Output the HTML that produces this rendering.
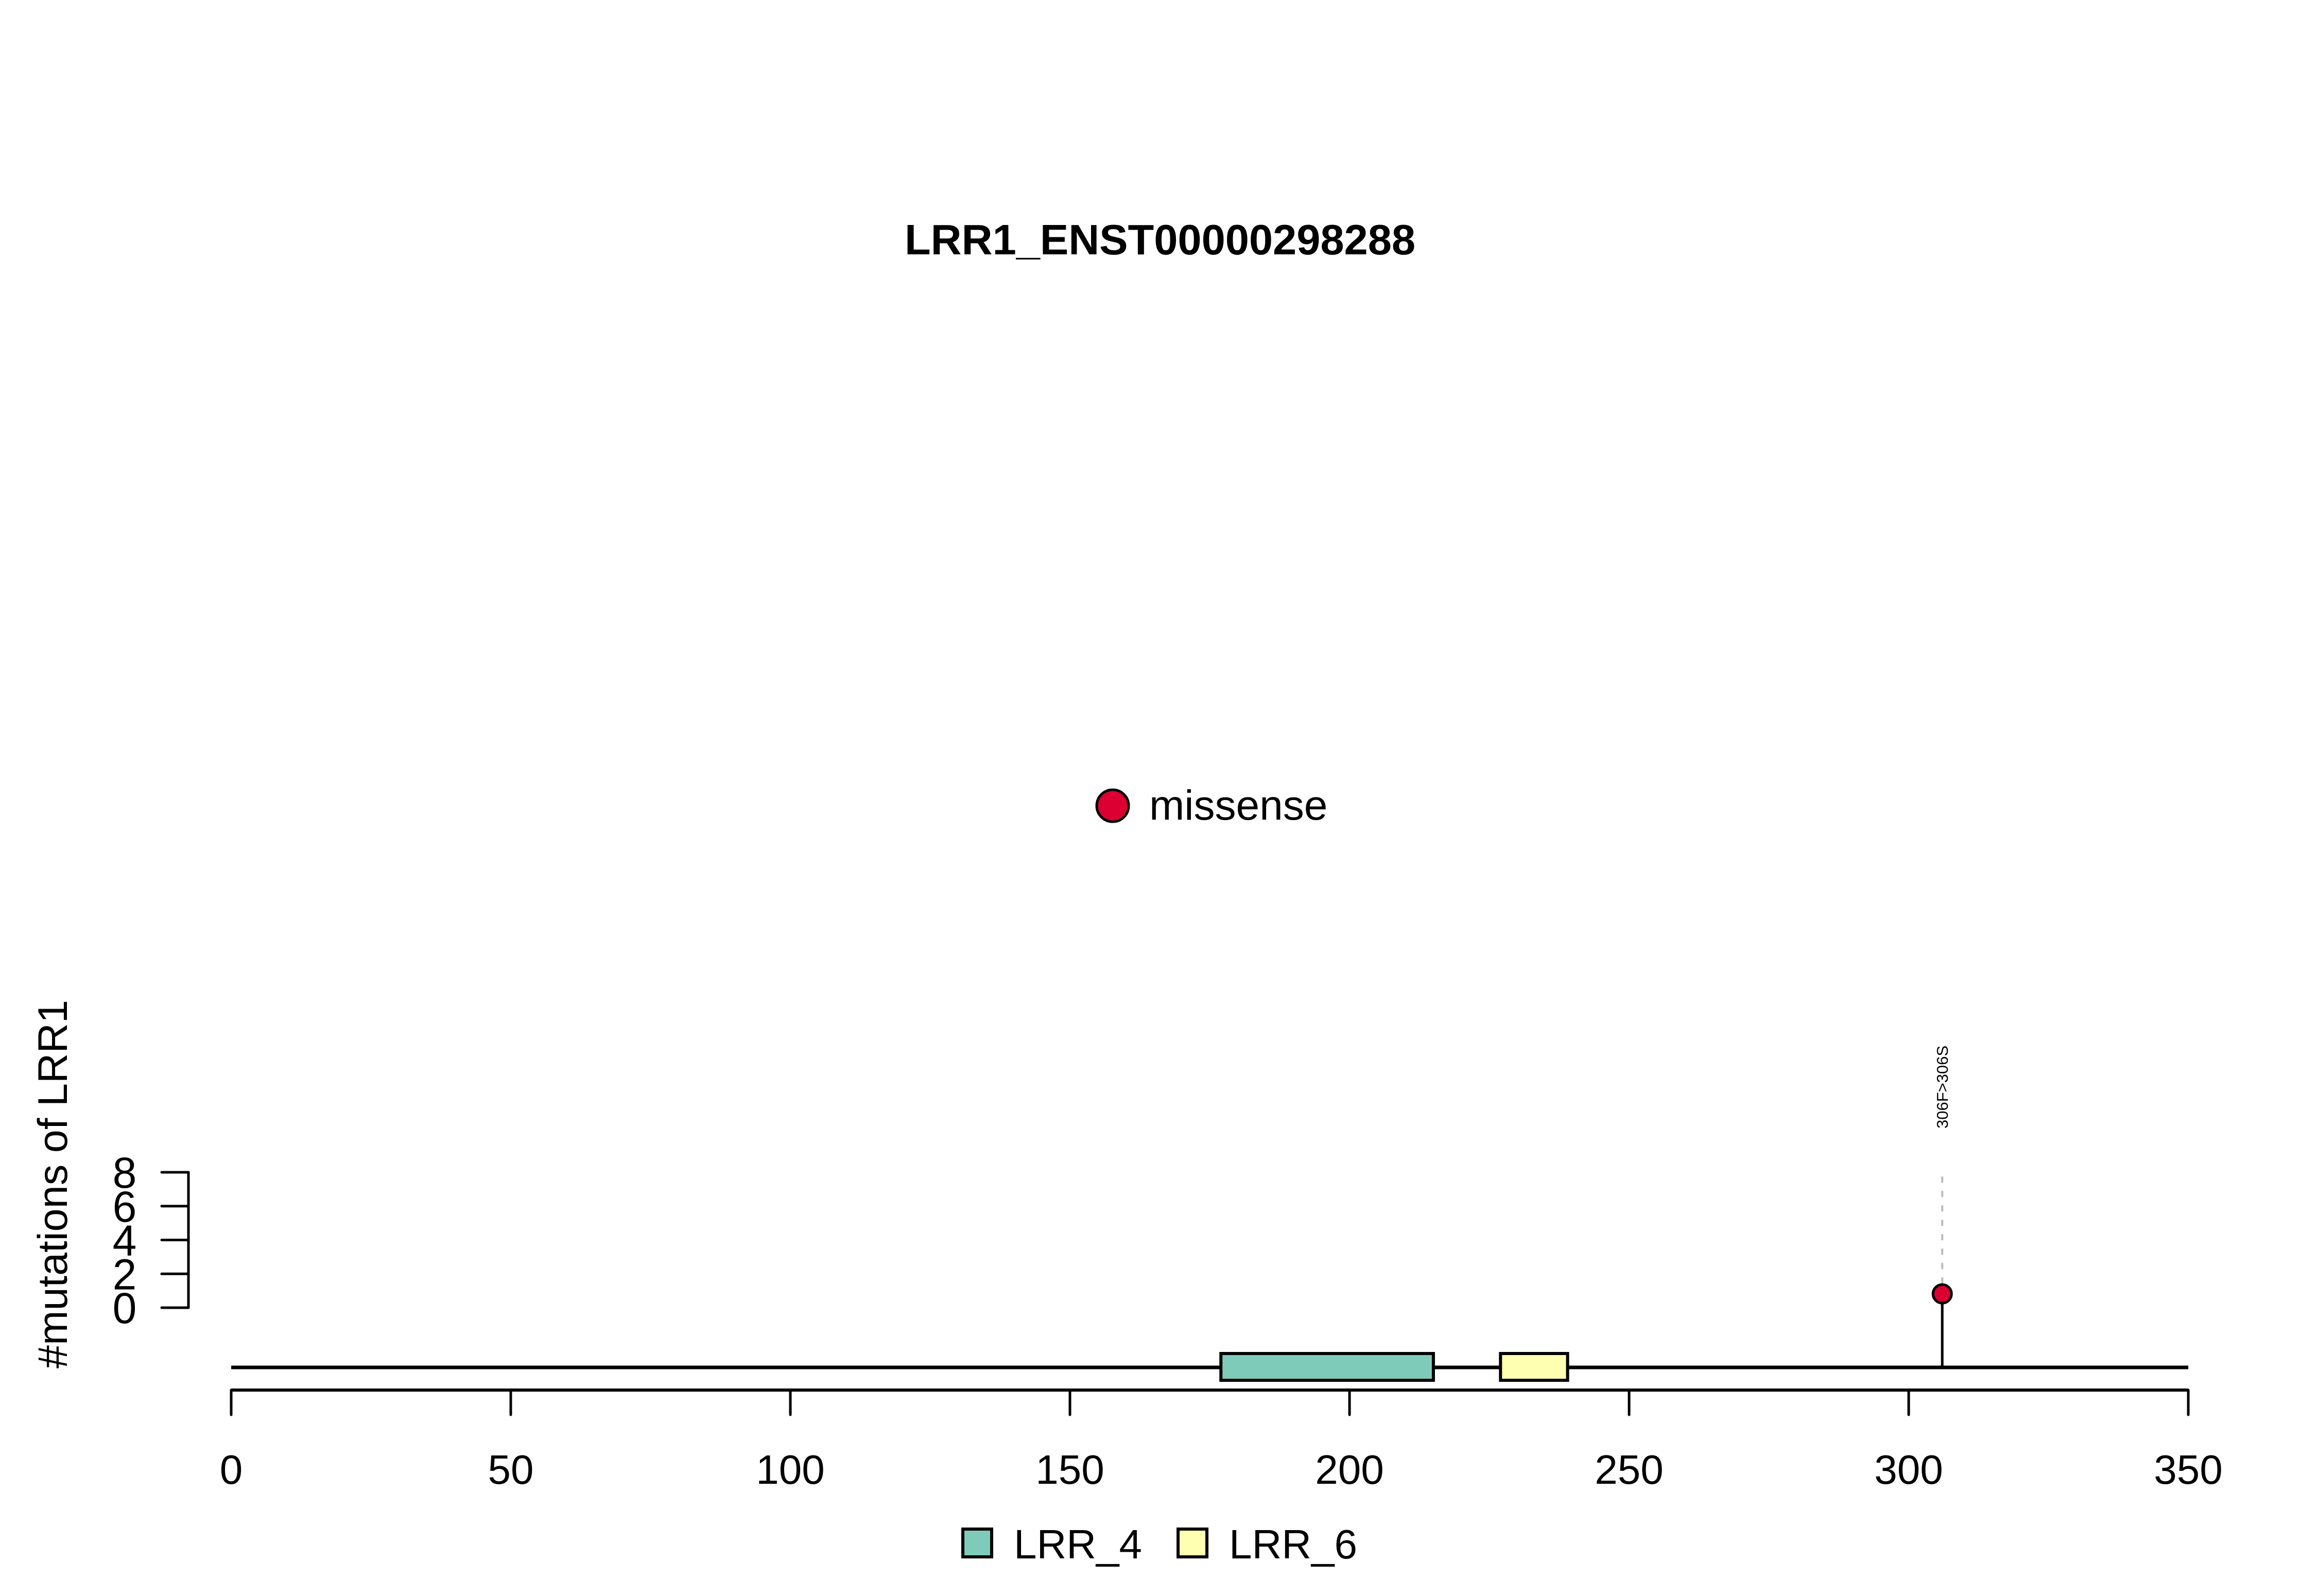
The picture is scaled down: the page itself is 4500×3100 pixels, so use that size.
<!DOCTYPE html>
<html><head><meta charset="utf-8"><style>
html,body{margin:0;padding:0;background:#fff;}
svg{display:block;font-family:"Liberation Sans",Arial,sans-serif;}
</style></head><body>
<svg id="chart" width="4500" height="3100" viewBox="0 0 4500 3100" xmlns="http://www.w3.org/2000/svg">
<rect width="4500" height="3100" fill="#fff"/>
<text x="2253" y="494" font-size="83" font-weight="bold" text-anchor="middle">LRR1_ENST00000298288</text>
<g>
<circle cx="2161" cy="1565" r="31" fill="#DC0032" stroke="#000" stroke-width="5"/>
<text x="2232" y="1592" font-size="82">missense</text>
</g>
<g id="plot"></g>
</svg>
<script>
const xTicks=[0,50,100,150,200,250,300,350];
const yTicks=[0,2,4,6,8];
const domainNames=["LRR_4","LRR_6"];
const domainStart=[177,227];
const domainEnd=[215,239];
const domainColors=["#7FCBBA","#FFFFB2"];
const mutPos=[306];
const mutCount=[1];
const mutLabels=["306F>306S"];
const proteinLength=350;

const NS="http://www.w3.org/2000/svg";
const g=document.getElementById('plot');
function X(v){return 449+(4250-449)*v/350;}
function Y(v){return 2540-(2540-2277)*v/8;}
function mk(tag,attrs,parent){const e=document.createElementNS(NS,tag);for(const k in attrs)e.setAttribute(k,attrs[k]);(parent||g).appendChild(e);return e;}
const BB=2656;

// y axis
const ya=mk('g',{});


mk('line',{x1:366,y1:Y(0),x2:366,y2:Y(8),stroke:'#000','stroke-width':5},ya);
yTicks.forEach(v=>{
  mk('line',{x1:314,y1:Y(v),x2:366,y2:Y(v),stroke:'#000','stroke-width':5,'stroke-linecap':'round'},ya);
  const t=mk('text',{x:242,y:Y(v)+30,'font-size':84,'text-anchor':'middle'},ya);
  t.textContent=v;
  
  
});
const yl=mk('text',{x:0,y:0,'font-size':81,'text-anchor':'middle',transform:'translate(130,2300) rotate(-90)'});
yl.textContent='#mutations of LRR1';



// backbone
const bb=mk('line',{x1:X(0),y1:BB,x2:X(proteinLength),y2:BB,stroke:'#000','stroke-width':7});



// lollipops
mutPos.forEach((p,i)=>{
  const cy=Y(mutCount[i])+6;
  mk('line',{x1:X(p),y1:BB,x2:X(p),y2:cy,stroke:'#000','stroke-width':5});
  const d=mk('line',{x1:X(p),y1:cy-20,x2:X(p),y2:2270,stroke:'#bbb','stroke-width':4,'stroke-dasharray':'12 16'});
  
  
  const c=mk('circle',{cx:X(p),cy:cy,r:18,fill:'#DC0032',stroke:'#000','stroke-width':5});
  
  
  const t=mk('text',{x:0,y:0,'font-size':31,transform:`translate(${X(p)+11},2192) rotate(-90)`});
  t.textContent=mutLabels[i];
  
  
});

// domains
domainNames.forEach((n,i)=>{
  const r=mk('rect',{x:X(domainStart[i]),y:2629,width:X(domainEnd[i])-X(domainStart[i]),height:52,fill:domainColors[i],stroke:'#000','stroke-width':6});
  
  
});

// x axis
const xa=mk('g',{});


mk('line',{x1:X(0),y1:2700,x2:X(350),y2:2700,stroke:'#000','stroke-width':6},xa);
xTicks.forEach(v=>{
  mk('line',{x1:X(v),y1:2700,x2:X(v),y2:2748,stroke:'#000','stroke-width':5,'stroke-linecap':'round'},xa);
  const t=mk('text',{x:X(v),y:2882,'font-size':80,'text-anchor':'middle'},xa);
  t.textContent=v;
  
  
});

// domain legend
const legX=[1870,2288];
domainNames.forEach((n,i)=>{
  const lg=mk('g',{});
  
  
  mk('rect',{x:legX[i],y:2970,width:56,height:54,fill:domainColors[i],stroke:'#000','stroke-width':6},lg);
  const t=mk('text',{x:legX[i]+99,y:3027,'font-size':80},lg);
  t.textContent=n;
});
</script>
</body></html>
